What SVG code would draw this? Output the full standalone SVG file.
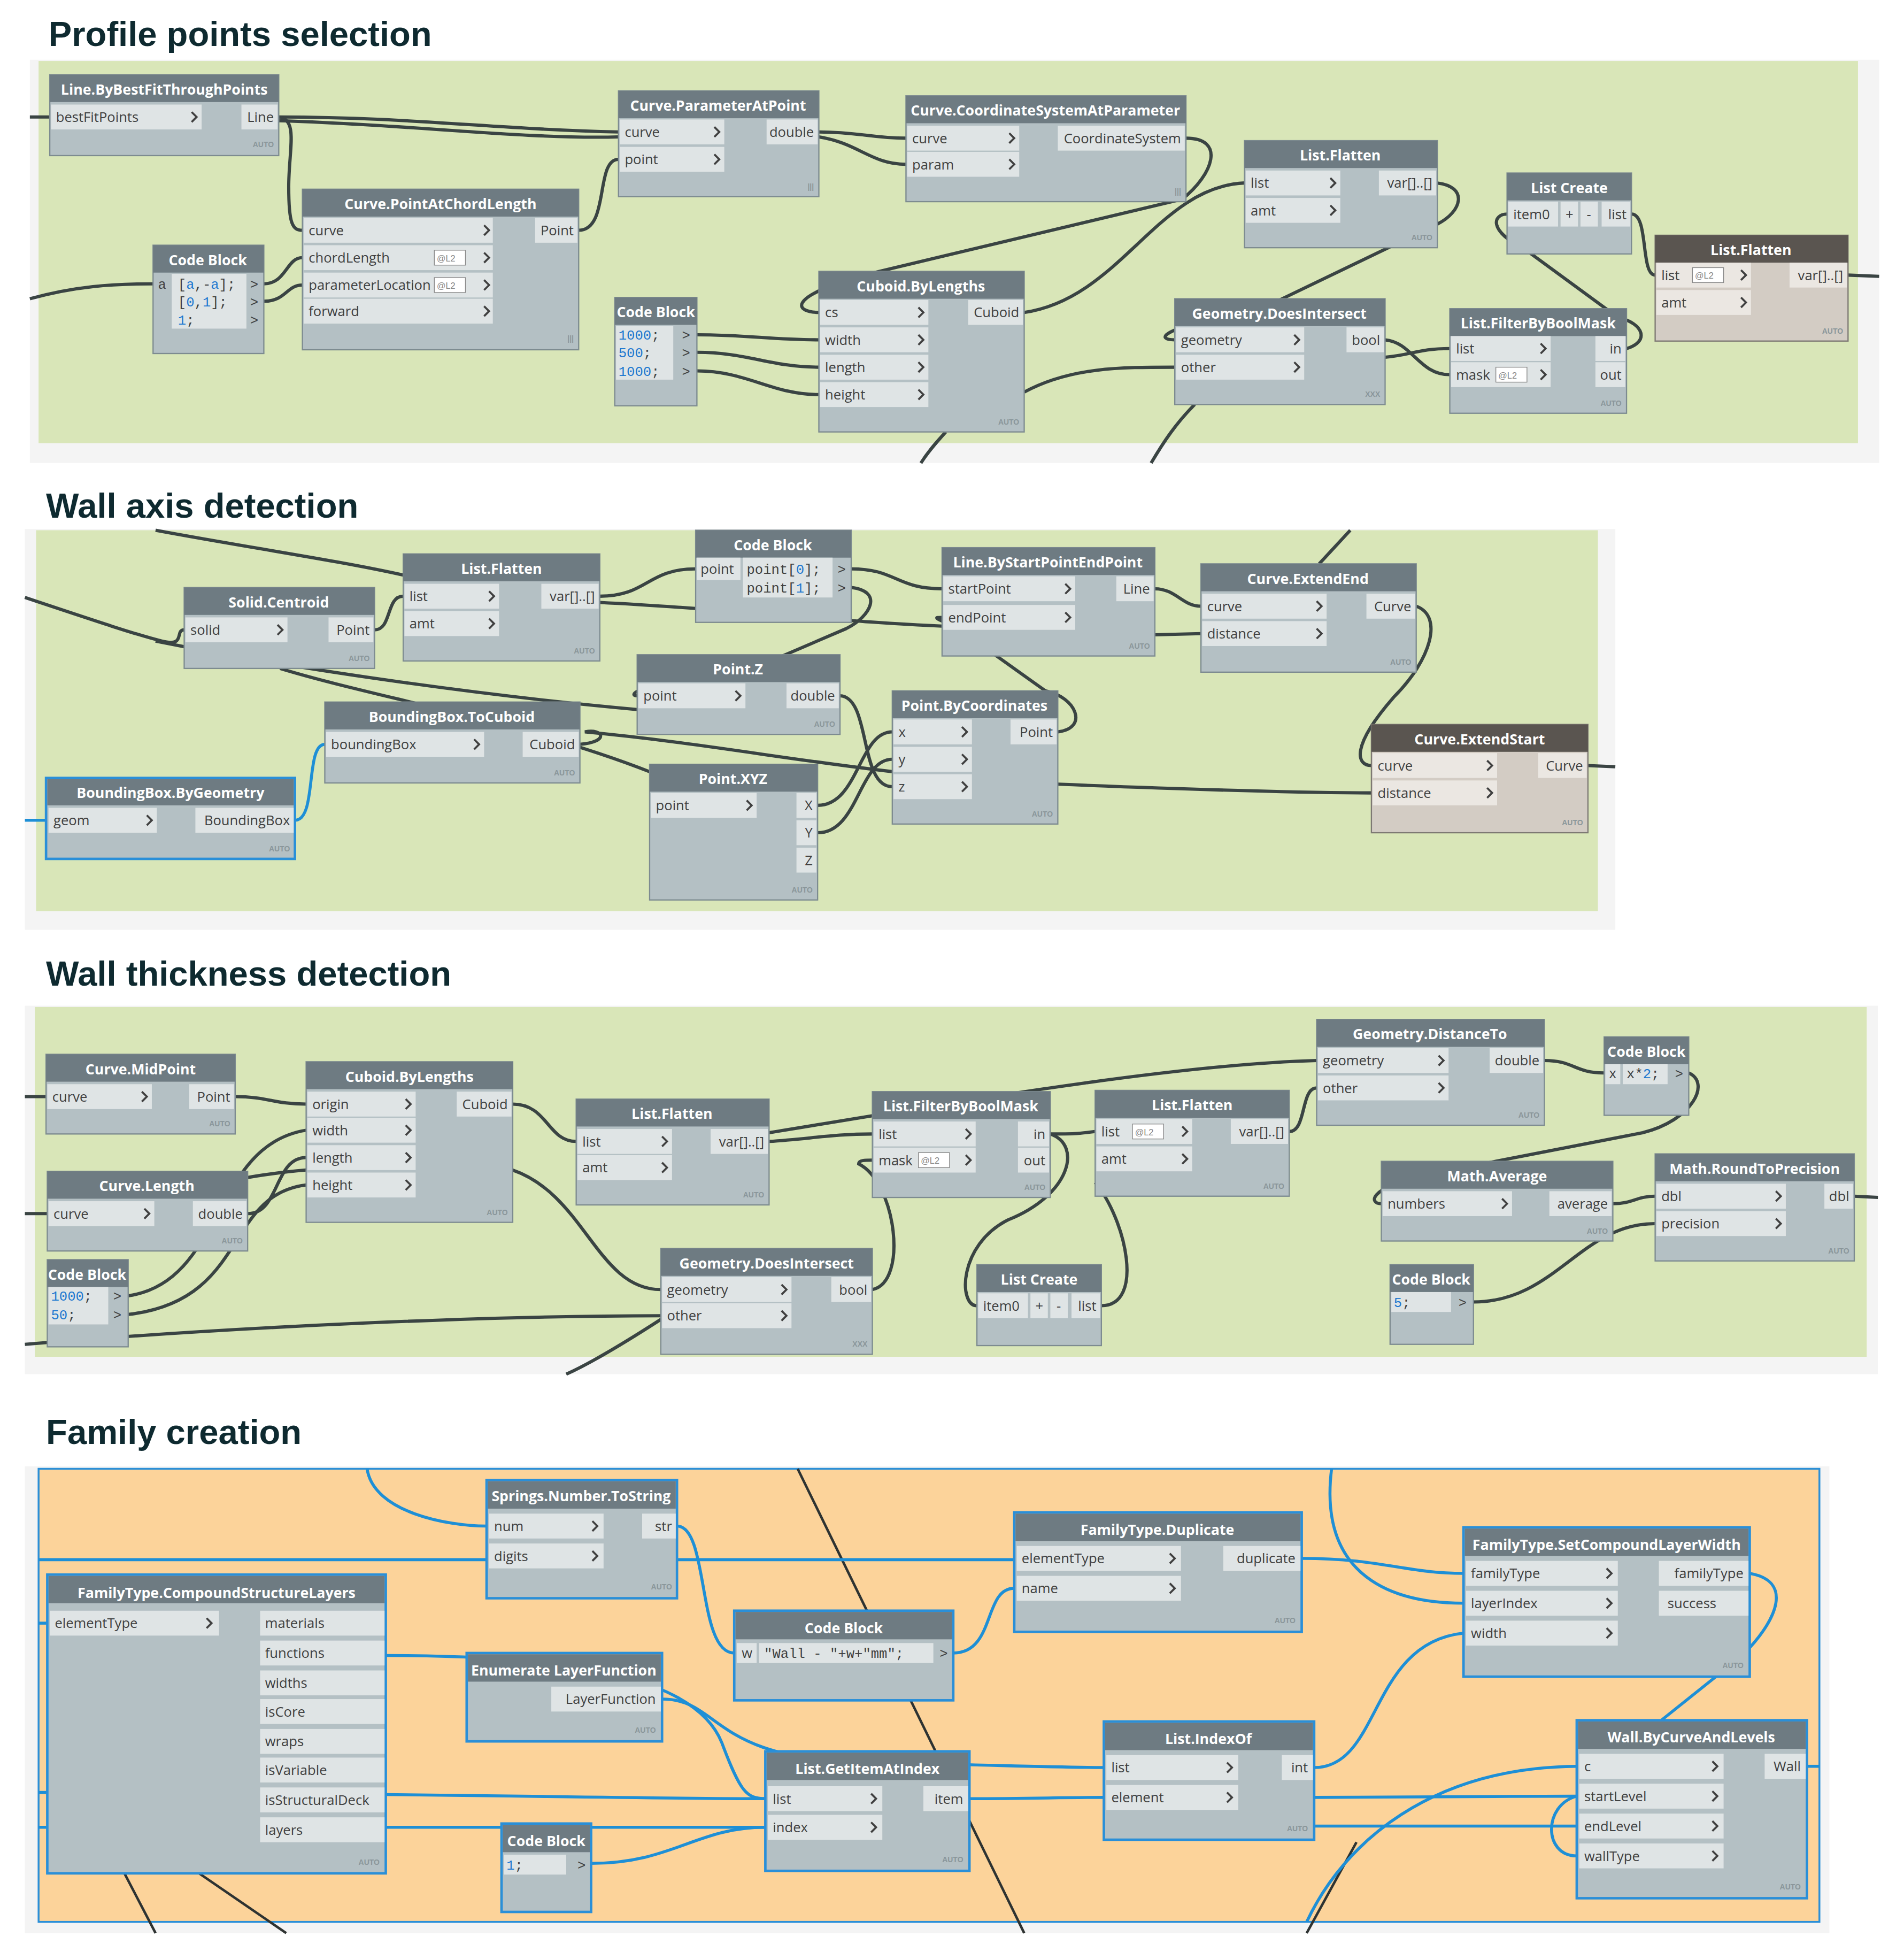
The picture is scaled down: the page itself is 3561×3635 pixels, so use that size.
<svg xmlns="http://www.w3.org/2000/svg" xmlns:xlink="http://www.w3.org/1999/xlink" width="3561" height="3635" viewBox="0 0 3561 3635">
<style>
.bd{fill:#b4c0c4;stroke:#7d8b90;stroke-width:1}
.bdd{fill:#d3ccc4;stroke:#7d7873;stroke-width:1}
.sel{stroke:#2a8fd8;stroke-width:2}
.hd{fill:#6e7b82}
.hdd{fill:#5a5550}
.pt{fill:#dfe4e5}
.ptd{fill:#ebe7e2}
.ttl{fill:#fff;font-family:"Open Sans","Liberation Sans",sans-serif;font-weight:bold;font-size:11.5px;text-anchor:middle}
.lb{fill:#404040;font-family:"Open Sans","Liberation Sans",sans-serif;font-size:11px}
.ar{fill:#404040;font-family:"Open Sans","Liberation Sans",sans-serif;font-size:11px;text-anchor:end}
.au{fill:#8a969a;font-family:"Liberation Sans",sans-serif;font-size:6px;font-weight:bold;text-anchor:end}
.cd{fill:#1e78d0;font-family:"Liberation Mono","DejaVu Sans Mono",monospace;font-size:11px}
.cdk{fill:#404040;font-family:"Liberation Mono","DejaVu Sans Mono",monospace;font-size:11px}
.h1{fill:#0e2a30;font-family:"Liberation Sans",sans-serif;font-weight:bold;font-size:28px}
.w{fill:none;stroke:#3a4443;stroke-width:2.6}
.wb{fill:none;stroke:#1e8fd6;stroke-width:2.4}
.wk{fill:none;stroke:#2e3332;stroke-width:2}
.l2{fill:#fff;stroke:#888;stroke-width:0.6}
.l2t{fill:#888;font-family:"Liberation Sans",sans-serif;font-size:7px}
</style>
<defs>
<path id="ch" d="M-2,-4 L2,0 L-2,4" fill="none" stroke="#404040" stroke-width="1.6"/>
</defs>
<rect width="3561" height="3635" fill="#fff"/>
<g transform="scale(2.3275)">
<!-- panels -->
<rect x="24" y="48" width="1486" height="324" fill="#f4f4f4"/>
<rect x="31" y="49" width="1462" height="307" fill="#d9e6b8"/>
<rect x="20" y="425" width="1278" height="322" fill="#f4f4f4"/>
<rect x="29" y="426" width="1255" height="306" fill="#d9e6b8"/>
<rect x="20" y="808" width="1489" height="296" fill="#f4f4f4"/>
<rect x="28" y="809" width="1472" height="281" fill="#d9e6b8"/>
<rect x="20" y="1178" width="1450" height="375" fill="#f4f4f4"/>
<rect x="31" y="1180" width="1431" height="364" fill="#fcd39a" stroke="#2a8fd8" stroke-width="1.5"/>
<text class="h1" x="39" y="37">Profile points selection</text>
<text class="h1" x="37" y="416">Wall axis detection</text>
<text class="h1" x="37" y="792">Wall thickness detection</text>
<text class="h1" x="37" y="1160">Family creation</text>

<g id="connectors">
<!-- section 1 -->
<path class="w" d="M24,94 L40,94"/>
<path class="w" d="M224,94 C330,94 400,104 497,106"/>
<path class="w" d="M224,97 C330,100 420,112 497,110"/>
<path class="w" d="M224,94 C240,96 232,120 232,150 C232,180 235,185 243,185"/>
<path class="w" d="M24,240 C60,230 90,228 123,228"/>
<path class="w" d="M212,228 C230,228 230,207 243,207"/>
<path class="w" d="M212,242 C230,242 230,229 243,229"/>
<path class="w" d="M465,185 C490,185 478,128 497,128"/>
<path class="w" d="M658,106 C690,106 700,111 728,111"/>
<path class="w" d="M658,110 C690,115 700,132 728,132"/>
<path class="w" d="M953,111 C985,111 975,140 950,160 L690,222 C630,240 640,251 658,251"/>
<path class="w" d="M560,269 C600,269 620,273 658,273"/>
<path class="w" d="M560,283 C600,283 620,295 658,295"/>
<path class="w" d="M560,298 C600,298 620,317 658,317"/>
<path class="w" d="M823,251 C900,240 930,150 1000,147"/>
<path class="w" d="M1155,147 C1180,150 1175,170 1155,180 L1020,245 C925,265 930,273 944,273"/>
<path class="w" d="M823,315 C860,295 900,295 944,295"/>
<path class="w" d="M960,325 C945,340 935,355 925,372"/>
<path class="w" d="M760,347 C750,358 745,364 740,372"/>
<path class="w" d="M1113,273 C1135,275 1140,301 1165,301"/>
<path class="w" d="M1113,287 C1135,285 1140,280 1165,280"/>
<path class="w" d="M1307,280 C1325,275 1322,260 1300,255 L1225,200 C1195,185 1200,172 1211,172"/>
<path class="w" d="M1311,172 C1325,172 1318,221 1330,221"/>
<path class="w" d="M1485,221 L1510,222"/>
<!-- section 2 -->
<path class="w" d="M125,426 C200,440 270,450 324,462"/>
<path class="w" d="M20,480 C80,500 110,510 130,515 C150,520 140,506 148,506"/>
<path class="w" d="M125,515 C250,540 400,560 512,570"/>
<path class="w" d="M225,537 C300,560 420,580 522,620"/>
<path class="w" d="M301,506 C315,506 310,479 324,479"/>
<path class="w" d="M482,479 C520,479 520,457 559,457"/>
<path class="w" d="M482,484 C600,490 680,500 757,503"/>
<path class="w" d="M684,457 C720,457 720,473 757,473"/>
<path class="w" d="M684,472 C710,475 700,495 680,505 L610,535 C505,550 505,559 512,559"/>
<path class="w" d="M928,473 C945,473 950,487 965,487"/>
<path class="w" d="M928,510 L965,509"/>
<path class="w" d="M1060,453 L1085,426"/>
<path class="w" d="M1138,487 C1160,495 1150,530 1120,560 C1085,600 1090,615 1102,615"/>
<path class="w" d="M675,559 C700,560 690,632 717,632"/>
<path class="w" d="M657,647 C690,647 690,588 717,588"/>
<path class="w" d="M657,669 C690,669 690,610 717,610"/>
<path class="w" d="M850,588 C875,585 865,560 840,555 L770,505 C750,496 750,496 757,496"/>
<path class="w" d="M466,598 C490,596 485,585 470,588 C600,600 700,625 850,630 C950,634 1050,637 1102,637"/>
<path class="wb" d="M20,659 L37,659"/>
<path class="wb" d="M237,659 C255,659 245,598 261,598"/>
<path class="w" d="M1276,615 L1298,616"/>
<!-- section 3 -->
<path class="w" d="M20,881 L37,881"/>
<path class="w" d="M20,975 L38,975"/>
<path class="w" d="M189,881 C215,881 220,887 246,887"/>
<path class="w" d="M103,1041 C180,1030 170,920 246,908"/>
<path class="w" d="M103,1056 C200,1045 180,960 246,952"/>
<path class="w" d="M199,975 C225,975 220,930 246,930"/>
<path class="w" d="M103,970 C180,950 190,945 246,940"/>
<path class="w" d="M412,887 C440,887 440,917 463,917"/>
<path class="w" d="M618,917 C650,915 670,911 701,911"/>
<path class="w" d="M412,940 C470,960 480,1036 531,1036"/>
<path class="w" d="M20,1080 C200,1065 400,1057 531,1057"/>
<path class="w" d="M531,1060 C500,1080 475,1095 455,1104"/>
<path class="w" d="M701,1036 C730,1030 720,950 690,935 C690,932 695,932 701,932"/>
<path class="w" d="M844,911 C862,911 865,911 880,909"/>
<path class="w" d="M844,911 C870,920 860,960 810,980 C770,1000 770,1049 785,1049"/>
<path class="w" d="M885,1049 C920,1049 905,980 880,950"/>
<path class="w" d="M1036,909 C1050,909 1045,874 1058,874"/>
<path class="w" d="M618,910 C800,880 950,855 1058,852"/>
<path class="w" d="M1241,852 C1265,852 1265,862 1289,862"/>
<path class="w" d="M1357,862 C1375,870 1360,900 1320,910 L1140,945 C1100,955 1100,967 1110,967"/>
<path class="w" d="M1296,967 C1312,967 1315,961 1330,961"/>
<path class="w" d="M1184,1046 C1250,1046 1270,983 1330,983"/>
<path class="w" d="M1490,961 L1509,962"/>
<!-- section 4 -->
<path class="wk" d="M641,1180 L823,1553"/>
<path class="wk" d="M100,1505 L125,1553"/>
<path class="wk" d="M160,1505 L230,1553"/>
<path class="wk" d="M1050,1553 L1090,1480"/>
<path class="wb" d="M295,1180 C300,1215 360,1226 391,1226"/>
<path class="wb" d="M31,1253 L815,1253"/>
<path class="wb" d="M544,1226 C570,1226 560,1328 590,1328"/>
<path class="wb" d="M766,1328 C800,1328 790,1276 815,1276"/>
<path class="wb" d="M1046,1252 C1110,1252 1130,1264 1176,1264"/>
<path class="wb" d="M1070,1180 C1060,1260 1110,1288 1176,1288"/>
<path class="wb" d="M31,1304 L38,1304"/>
<path class="wb" d="M310,1330 C470,1330 560,1350 580,1400 C595,1440 600,1445 615,1445"/>
<path class="wb" d="M532,1365 C580,1365 570,1415 700,1416 C800,1418 850,1420 887,1420"/>
<path class="wb" d="M31,1440 C300,1440 500,1445 615,1445"/>
<path class="wb" d="M31,1468 L615,1468"/>
<path class="wb" d="M475,1497 C540,1497 560,1468 615,1468"/>
<path class="wb" d="M779,1445 C830,1445 850,1444 887,1444"/>
<path class="wb" d="M1056,1444 C1150,1444 1200,1443 1267,1443"/>
<path class="wb" d="M1056,1467 C1150,1467 1200,1467 1267,1467"/>
<path class="wb" d="M1267,1443 C1240,1450 1240,1491 1267,1491"/>
<path class="wb" d="M1056,1420 C1110,1420 1100,1320 1176,1312"/>
<path class="wb" d="M1406,1264 C1440,1270 1430,1300 1400,1330 L1335,1382"/>
<path class="wb" d="M1050,1544 C1080,1480 1150,1420 1267,1419"/>
<path class="wb" d="M1452,1419 L1462,1419"/>
</g>

<!-- ===== Section 1 nodes ===== -->
<g id="n_linebestfit">
<rect class="bd" x="40" y="60" width="184" height="65"/><rect class="hd" x="40" y="60" width="184" height="22"/>
<text class="ttl" x="132" y="76">Line.ByBestFitThroughPoints</text>
<rect class="pt" x="41" y="84" width="121" height="20"/><text class="lb" x="45" y="98">bestFitPoints</text><use href="#ch" x="156" y="94"/>
<rect class="pt" x="194" y="84" width="29" height="20"/><text class="ar" x="220" y="98">Line</text>
<text class="au" x="220" y="118">AUTO</text>
</g>
<g id="n_cb1">
<rect class="bd" x="123" y="197" width="89" height="87"/><rect class="hd" x="123" y="197" width="89" height="22"/>
<text class="ttl" x="167" y="213">Code Block</text>
<rect class="pt" x="138" y="220" width="60" height="44"/>
<text class="cdk" x="127" y="232">a</text>
<text class="cdk" x="143" y="232">[<tspan fill="#1e78d0">a</tspan>,-<tspan fill="#1e78d0">a</tspan>];</text>
<text class="cdk" x="143" y="246">[<tspan fill="#1e78d0">0</tspan>,<tspan fill="#1e78d0">1</tspan>];</text>
<text class="cd" x="143" y="261">1<tspan fill="#404040">;</tspan></text>
<text class="cdk" x="201" y="232">&gt;</text><text class="cdk" x="201" y="246">&gt;</text><text class="cdk" x="201" y="261">&gt;</text>
</g>
<g id="n_pacl">
<rect class="bd" x="243" y="152" width="222" height="129"/><rect class="hd" x="243" y="152" width="222" height="22"/>
<text class="ttl" x="354" y="168">Curve.PointAtChordLength</text>
<rect class="pt" x="244" y="175" width="152" height="20"/><text class="lb" x="248" y="189">curve</text><use href="#ch" x="391" y="185"/>
<rect class="pt" x="244" y="197" width="152" height="20"/><text class="lb" x="248" y="211">chordLength</text><rect class="l2" x="349" y="201" width="25" height="12"/><text class="l2t" x="351" y="210">@L2</text><use href="#ch" x="391" y="207"/>
<rect class="pt" x="244" y="219" width="152" height="20"/><text class="lb" x="248" y="233">parameterLocation</text><rect class="l2" x="349" y="223" width="25" height="12"/><text class="l2t" x="351" y="232">@L2</text><use href="#ch" x="391" y="229"/>
<rect class="pt" x="244" y="240" width="152" height="20"/><text class="lb" x="248" y="254">forward</text><use href="#ch" x="391" y="250"/>
<rect class="pt" x="430" y="175" width="34" height="20"/><text class="ar" x="461" y="189">Point</text>
<text class="au" x="461" y="274">|||</text>
</g>
<g id="n_pap">
<rect class="bd" x="497" y="73" width="161" height="85"/><rect class="hd" x="497" y="73" width="161" height="22"/>
<text class="ttl" x="577" y="89">Curve.ParameterAtPoint</text>
<rect class="pt" x="498" y="96" width="84" height="20"/><text class="lb" x="502" y="110">curve</text><use href="#ch" x="576" y="106"/>
<rect class="pt" x="498" y="118" width="84" height="20"/><text class="lb" x="502" y="132">point</text><use href="#ch" x="576" y="128"/>
<rect class="pt" x="616" y="96" width="41" height="20"/><text class="ar" x="654" y="110">double</text>
<text class="au" x="654" y="152">|||</text>
</g>
<g id="n_csap">
<rect class="bd" x="728" y="77" width="225" height="85"/><rect class="hd" x="728" y="77" width="225" height="22"/>
<text class="ttl" x="840" y="93">Curve.CoordinateSystemAtParameter</text>
<rect class="pt" x="729" y="101" width="90" height="20"/><text class="lb" x="733" y="115">curve</text><use href="#ch" x="813" y="111"/>
<rect class="pt" x="729" y="122" width="90" height="20"/><text class="lb" x="733" y="136">param</text><use href="#ch" x="813" y="132"/>
<rect class="pt" x="850" y="101" width="102" height="20"/><text class="ar" x="949" y="115">CoordinateSystem</text>
<text class="au" x="949" y="156">|||</text>
</g>
<g id="n_flat1">
<rect class="bd" x="1000" y="113" width="155" height="86"/><rect class="hd" x="1000" y="113" width="155" height="22"/>
<text class="ttl" x="1077" y="129">List.Flatten</text>
<rect class="pt" x="1001" y="137" width="76" height="20"/><text class="lb" x="1005" y="151">list</text><use href="#ch" x="1071" y="147"/>
<rect class="pt" x="1001" y="159" width="76" height="20"/><text class="lb" x="1005" y="173">amt</text><use href="#ch" x="1071" y="169"/>
<rect class="pt" x="1108" y="137" width="46" height="20"/><text class="ar" x="1151" y="151">var[]..[]</text>
<text class="au" x="1151" y="193">AUTO</text>
</g>
<g id="n_lc1">
<rect class="bd" x="1211" y="139" width="100" height="65"/><rect class="hd" x="1211" y="139" width="100" height="22"/>
<text class="ttl" x="1261" y="155">List Create</text>
<rect class="pt" x="1212" y="162" width="40" height="20"/><text class="lb" x="1216" y="176">item0</text>
<rect class="pt" x="1254" y="162" width="14" height="20"/><text class="lb" x="1258" y="176">+</text>
<rect class="pt" x="1270" y="162" width="14" height="20"/><text class="lb" x="1275" y="176">-</text>
<rect class="pt" x="1287" y="162" width="23" height="20"/><text class="ar" x="1307" y="176">list</text>
</g>
<g id="n_flat2">
<rect class="bdd" x="1330" y="189" width="155" height="85"/><rect class="hdd" x="1330" y="189" width="155" height="22"/>
<text class="ttl" x="1407" y="205">List.Flatten</text>
<rect class="ptd" x="1331" y="211" width="76" height="20"/><text class="lb" x="1335" y="225">list</text><rect class="l2" x="1360" y="215" width="25" height="12"/><text class="l2t" x="1362" y="224">@L2</text><use href="#ch" x="1401" y="221"/>
<rect class="ptd" x="1331" y="233" width="76" height="20"/><text class="lb" x="1335" y="247">amt</text><use href="#ch" x="1401" y="243"/>
<rect class="ptd" x="1438" y="211" width="46" height="20"/><text class="ar" x="1481" y="225">var[]..[]</text>
<text class="au" x="1481" y="268">AUTO</text>
</g>
<g id="n_cb2">
<rect class="bd" x="494" y="239" width="66" height="87"/><rect class="hd" x="494" y="239" width="66" height="22"/>
<text class="ttl" x="527" y="255">Code Block</text>
<rect class="pt" x="495" y="262" width="46" height="43"/>
<text class="cd" x="497" y="273">1000<tspan fill="#404040">;</tspan></text>
<text class="cd" x="497" y="287">500<tspan fill="#404040">;</tspan></text>
<text class="cd" x="497" y="302">1000<tspan fill="#404040">;</tspan></text>
<text class="cdk" x="548" y="273">&gt;</text><text class="cdk" x="548" y="287">&gt;</text><text class="cdk" x="548" y="302">&gt;</text>
</g>
<g id="n_cuboid1">
<rect class="bd" x="658" y="218" width="165" height="129"/><rect class="hd" x="658" y="218" width="165" height="22"/>
<text class="ttl" x="740" y="234">Cuboid.ByLengths</text>
<rect class="pt" x="659" y="241" width="87" height="20"/><text class="lb" x="663" y="255">cs</text><use href="#ch" x="740" y="251"/>
<rect class="pt" x="659" y="263" width="87" height="20"/><text class="lb" x="663" y="277">width</text><use href="#ch" x="740" y="273"/>
<rect class="pt" x="659" y="285" width="87" height="20"/><text class="lb" x="663" y="299">length</text><use href="#ch" x="740" y="295"/>
<rect class="pt" x="659" y="307" width="87" height="20"/><text class="lb" x="663" y="321">height</text><use href="#ch" x="740" y="317"/>
<rect class="pt" x="778" y="241" width="44" height="20"/><text class="ar" x="819" y="255">Cuboid</text>
<text class="au" x="819" y="341">AUTO</text>
</g>
<g id="n_gdi1">
<rect class="bd" x="944" y="240" width="169" height="85"/><rect class="hd" x="944" y="240" width="169" height="22"/>
<text class="ttl" x="1028" y="256">Geometry.DoesIntersect</text>
<rect class="pt" x="945" y="263" width="103" height="20"/><text class="lb" x="949" y="277">geometry</text><use href="#ch" x="1042" y="273"/>
<rect class="pt" x="945" y="285" width="103" height="20"/><text class="lb" x="949" y="299">other</text><use href="#ch" x="1042" y="295"/>
<rect class="pt" x="1082" y="263" width="30" height="20"/><text class="ar" x="1109" y="277">bool</text>
<text class="au" x="1109" y="319">XXX</text>
</g>
<g id="n_fbbm1">
<rect class="bd" x="1165" y="248" width="142" height="84"/><rect class="hd" x="1165" y="248" width="142" height="22"/>
<text class="ttl" x="1236" y="264">List.FilterByBoolMask</text>
<rect class="pt" x="1166" y="270" width="80" height="20"/><text class="lb" x="1170" y="284">list</text><use href="#ch" x="1240" y="280"/>
<rect class="pt" x="1166" y="291" width="80" height="20"/><text class="lb" x="1170" y="305">mask</text><rect class="l2" x="1202" y="295" width="25" height="12"/><text class="l2t" x="1204" y="304">@L2</text><use href="#ch" x="1240" y="301"/>
<rect class="pt" x="1282" y="270" width="24" height="20"/><text class="ar" x="1303" y="284">in</text>
<rect class="pt" x="1282" y="291" width="24" height="20"/><text class="ar" x="1303" y="305">out</text>
<text class="au" x="1303" y="326">AUTO</text>
</g>

<!-- ===== Section 2 nodes ===== -->
<g id="n_centroid">
<rect class="bd" x="148" y="472" width="153" height="65"/><rect class="hd" x="148" y="472" width="153" height="22"/>
<text class="ttl" x="224" y="488">Solid.Centroid</text>
<rect class="pt" x="149" y="496" width="82" height="20"/><text class="lb" x="153" y="510">solid</text><use href="#ch" x="225" y="506"/>
<rect class="pt" x="264" y="496" width="36" height="20"/><text class="ar" x="297" y="510">Point</text>
<text class="au" x="297" y="531">AUTO</text>
</g>
<g id="n_flat3">
<rect class="bd" x="324" y="445" width="158" height="86"/><rect class="hd" x="324" y="445" width="158" height="22"/>
<text class="ttl" x="403" y="461">List.Flatten</text>
<rect class="pt" x="325" y="469" width="76" height="20"/><text class="lb" x="329" y="483">list</text><use href="#ch" x="395" y="479"/>
<rect class="pt" x="325" y="491" width="76" height="20"/><text class="lb" x="329" y="505">amt</text><use href="#ch" x="395" y="501"/>
<rect class="pt" x="435" y="469" width="46" height="20"/><text class="ar" x="478" y="483">var[]..[]</text>
<text class="au" x="478" y="525">AUTO</text>
</g>
<g id="n_cb3">
<rect class="bd" x="559" y="426" width="125" height="74"/><rect class="hd" x="559" y="426" width="125" height="22"/>
<text class="ttl" x="621" y="442">Code Block</text>
<rect class="pt" x="560" y="448" width="35" height="18"/><text class="lb" x="563" y="461">point</text>
<rect class="pt" x="597" y="448" width="72" height="32"/>
<text class="cdk" x="600" y="461">point[<tspan fill="#1e78d0">0</tspan>];</text>
<text class="cdk" x="600" y="476">point[<tspan fill="#1e78d0">1</tspan>];</text>
<text class="cdk" x="673" y="461">&gt;</text><text class="cdk" x="673" y="476">&gt;</text>
</g>
<g id="n_lbsp">
<rect class="bd" x="757" y="440" width="171" height="87"/><rect class="hd" x="757" y="440" width="171" height="22"/>
<text class="ttl" x="842" y="456">Line.ByStartPointEndPoint</text>
<rect class="pt" x="758" y="463" width="106" height="20"/><text class="lb" x="762" y="477">startPoint</text><use href="#ch" x="858" y="473"/>
<rect class="pt" x="758" y="486" width="106" height="20"/><text class="lb" x="762" y="500">endPoint</text><use href="#ch" x="858" y="496"/>
<rect class="pt" x="897" y="463" width="30" height="20"/><text class="ar" x="924" y="477">Line</text>
<text class="au" x="924" y="521">AUTO</text>
</g>
<g id="n_extend_end">
<rect class="bd" x="965" y="453" width="173" height="87"/><rect class="hd" x="965" y="453" width="173" height="22"/>
<text class="ttl" x="1051" y="469">Curve.ExtendEnd</text>
<rect class="pt" x="966" y="477" width="100" height="20"/><text class="lb" x="970" y="491">curve</text><use href="#ch" x="1060" y="487"/>
<rect class="pt" x="966" y="499" width="100" height="20"/><text class="lb" x="970" y="513">distance</text><use href="#ch" x="1060" y="509"/>
<rect class="pt" x="1098" y="477" width="39" height="20"/><text class="ar" x="1134" y="491">Curve</text>
<text class="au" x="1134" y="534">AUTO</text>
</g>
<g id="n_pointz">
<rect class="bd" x="512" y="526" width="163" height="64"/><rect class="hd" x="512" y="526" width="163" height="22"/>
<text class="ttl" x="593" y="542">Point.Z</text>
<rect class="pt" x="513" y="549" width="86" height="20"/><text class="lb" x="517" y="563">point</text><use href="#ch" x="593" y="559"/>
<rect class="pt" x="632" y="549" width="42" height="20"/><text class="ar" x="671" y="563">double</text>
<text class="au" x="671" y="584">AUTO</text>
</g>
<g id="n_bbtocuboid">
<rect class="bd" x="261" y="564" width="205" height="65"/><rect class="hd" x="261" y="564" width="205" height="22"/>
<text class="ttl" x="363" y="580">BoundingBox.ToCuboid</text>
<rect class="pt" x="262" y="588" width="127" height="20"/><text class="lb" x="266" y="602">boundingBox</text><use href="#ch" x="383" y="598"/>
<rect class="pt" x="420" y="588" width="45" height="20"/><text class="ar" x="462" y="602">Cuboid</text>
<text class="au" x="462" y="623">AUTO</text>
</g>
<g id="n_pbc">
<rect class="bd" x="717" y="555" width="133" height="107"/><rect class="hd" x="717" y="555" width="133" height="22"/>
<text class="ttl" x="783" y="571">Point.ByCoordinates</text>
<rect class="pt" x="718" y="578" width="63" height="20"/><text class="lb" x="722" y="592">x</text><use href="#ch" x="775" y="588"/>
<rect class="pt" x="718" y="600" width="63" height="20"/><text class="lb" x="722" y="614">y</text><use href="#ch" x="775" y="610"/>
<rect class="pt" x="718" y="622" width="63" height="20"/><text class="lb" x="722" y="636">z</text><use href="#ch" x="775" y="632"/>
<rect class="pt" x="812" y="578" width="37" height="20"/><text class="ar" x="846" y="592">Point</text>
<text class="au" x="846" y="656">AUTO</text>
</g>
<g id="n_extend_start">
<rect class="bdd" x="1102" y="582" width="174" height="87"/><rect class="hdd" x="1102" y="582" width="174" height="22"/>
<text class="ttl" x="1189" y="598">Curve.ExtendStart</text>
<rect class="ptd" x="1103" y="605" width="100" height="20"/><text class="lb" x="1107" y="619">curve</text><use href="#ch" x="1197" y="615"/>
<rect class="ptd" x="1103" y="627" width="100" height="20"/><text class="lb" x="1107" y="641">distance</text><use href="#ch" x="1197" y="637"/>
<rect class="ptd" x="1236" y="605" width="39" height="20"/><text class="ar" x="1272" y="619">Curve</text>
<text class="au" x="1272" y="663">AUTO</text>
</g>
<g id="n_bbbygeom">
<rect class="bd sel" x="37" y="625" width="200" height="65"/><rect class="hd" x="38" y="626" width="198" height="21"/>
<text class="ttl" x="137" y="641">BoundingBox.ByGeometry</text>
<rect class="pt" x="39" y="649" width="87" height="20"/><text class="lb" x="43" y="663">geom</text><use href="#ch" x="120" y="659"/>
<rect class="pt" x="157" y="649" width="79" height="20"/><text class="ar" x="233" y="663">BoundingBox</text>
<text class="au" x="233" y="684">AUTO</text>
</g>
<g id="n_pointxyz">
<rect class="bd" x="522" y="614" width="135" height="109"/><rect class="hd" x="522" y="614" width="135" height="22"/>
<text class="ttl" x="589" y="630">Point.XYZ</text>
<rect class="pt" x="523" y="637" width="85" height="20"/><text class="lb" x="527" y="651">point</text><use href="#ch" x="602" y="647"/>
<rect class="pt" x="640" y="637" width="16" height="20"/><text class="ar" x="653" y="651">X</text>
<rect class="pt" x="640" y="659" width="16" height="20"/><text class="ar" x="653" y="673">Y</text>
<rect class="pt" x="640" y="681" width="16" height="20"/><text class="ar" x="653" y="695">Z</text>
<text class="au" x="653" y="717">AUTO</text>
</g>

<!-- ===== Section 3 nodes ===== -->
<g id="n_midpoint">
<rect class="bd" x="37" y="847" width="152" height="64"/><rect class="hd" x="37" y="847" width="152" height="22"/>
<text class="ttl" x="113" y="863">Curve.MidPoint</text>
<rect class="pt" x="38" y="871" width="84" height="20"/><text class="lb" x="42" y="885">curve</text><use href="#ch" x="116" y="881"/>
<rect class="pt" x="152" y="871" width="36" height="20"/><text class="ar" x="185" y="885">Point</text>
<text class="au" x="185" y="905">AUTO</text>
</g>
<g id="n_cuboid2">
<rect class="bd" x="246" y="853" width="166" height="129"/><rect class="hd" x="246" y="853" width="166" height="22"/>
<text class="ttl" x="329" y="869">Cuboid.ByLengths</text>
<rect class="pt" x="247" y="877" width="87" height="20"/><text class="lb" x="251" y="891">origin</text><use href="#ch" x="328" y="887"/>
<rect class="pt" x="247" y="898" width="87" height="20"/><text class="lb" x="251" y="912">width</text><use href="#ch" x="328" y="908"/>
<rect class="pt" x="247" y="920" width="87" height="20"/><text class="lb" x="251" y="934">length</text><use href="#ch" x="328" y="930"/>
<rect class="pt" x="247" y="942" width="87" height="20"/><text class="lb" x="251" y="956">height</text><use href="#ch" x="328" y="952"/>
<rect class="pt" x="367" y="877" width="44" height="20"/><text class="ar" x="408" y="891">Cuboid</text>
<text class="au" x="408" y="976">AUTO</text>
</g>
<g id="n_flat4">
<rect class="bd" x="463" y="883" width="155" height="85"/><rect class="hd" x="463" y="883" width="155" height="22"/>
<text class="ttl" x="540" y="899">List.Flatten</text>
<rect class="pt" x="464" y="907" width="76" height="20"/><text class="lb" x="468" y="921">list</text><use href="#ch" x="534" y="917"/>
<rect class="pt" x="464" y="928" width="76" height="20"/><text class="lb" x="468" y="942">amt</text><use href="#ch" x="534" y="938"/>
<rect class="pt" x="571" y="907" width="46" height="20"/><text class="ar" x="614" y="921">var[]..[]</text>
<text class="au" x="614" y="962">AUTO</text>
</g>
<g id="n_fbbm2">
<rect class="bd" x="701" y="877" width="143" height="85"/><rect class="hd" x="701" y="877" width="143" height="22"/>
<text class="ttl" x="772" y="893">List.FilterByBoolMask</text>
<rect class="pt" x="702" y="901" width="82" height="20"/><text class="lb" x="706" y="915">list</text><use href="#ch" x="778" y="911"/>
<rect class="pt" x="702" y="922" width="82" height="20"/><text class="lb" x="706" y="936">mask</text><rect class="l2" x="738" y="926" width="25" height="12"/><text class="l2t" x="740" y="935">@L2</text><use href="#ch" x="778" y="932"/>
<rect class="pt" x="818" y="901" width="25" height="20"/><text class="ar" x="840" y="915">in</text>
<rect class="pt" x="818" y="922" width="25" height="20"/><text class="ar" x="840" y="936">out</text>
<text class="au" x="840" y="956">AUTO</text>
</g>
<g id="n_flat5">
<rect class="bd" x="880" y="876" width="156" height="85"/><rect class="hd" x="880" y="876" width="156" height="22"/>
<text class="ttl" x="958" y="892">List.Flatten</text>
<rect class="pt" x="881" y="899" width="77" height="20"/><text class="lb" x="885" y="913">list</text><rect class="l2" x="910" y="903" width="25" height="12"/><text class="l2t" x="912" y="912">@L2</text><use href="#ch" x="952" y="909"/>
<rect class="pt" x="881" y="921" width="77" height="20"/><text class="lb" x="885" y="935">amt</text><use href="#ch" x="952" y="931"/>
<rect class="pt" x="989" y="899" width="46" height="20"/><text class="ar" x="1032" y="913">var[]..[]</text>
<text class="au" x="1032" y="955">AUTO</text>
</g>
<g id="n_distto">
<rect class="bd" x="1058" y="819" width="183" height="85"/><rect class="hd" x="1058" y="819" width="183" height="22"/>
<text class="ttl" x="1149" y="835">Geometry.DistanceTo</text>
<rect class="pt" x="1059" y="842" width="105" height="20"/><text class="lb" x="1063" y="856">geometry</text><use href="#ch" x="1158" y="852"/>
<rect class="pt" x="1059" y="864" width="105" height="20"/><text class="lb" x="1063" y="878">other</text><use href="#ch" x="1158" y="874"/>
<rect class="pt" x="1197" y="842" width="43" height="20"/><text class="ar" x="1237" y="856">double</text>
<text class="au" x="1237" y="898">AUTO</text>
</g>
<g id="n_cb4">
<rect class="bd" x="1289" y="833" width="68" height="63"/><rect class="hd" x="1289" y="833" width="68" height="22"/>
<text class="ttl" x="1323" y="849">Code Block</text>
<rect class="pt" x="1290" y="855" width="12" height="16"/><text class="lb" x="1293" y="866">x</text>
<rect class="pt" x="1304" y="855" width="36" height="16"/><text class="cdk" x="1307" y="866">x*<tspan fill="#1e78d0">2</tspan>;</text>
<text class="cdk" x="1346" y="866">&gt;</text>
</g>
<g id="n_curvelength">
<rect class="bd" x="38" y="941" width="161" height="64"/><rect class="hd" x="38" y="941" width="161" height="22"/>
<text class="ttl" x="118" y="957">Curve.Length</text>
<rect class="pt" x="39" y="965" width="85" height="20"/><text class="lb" x="43" y="979">curve</text><use href="#ch" x="118" y="975"/>
<rect class="pt" x="155" y="965" width="43" height="20"/><text class="ar" x="195" y="979">double</text>
<text class="au" x="195" y="999">AUTO</text>
</g>
<g id="n_average">
<rect class="bd" x="1110" y="933" width="186" height="64"/><rect class="hd" x="1110" y="933" width="186" height="22"/>
<text class="ttl" x="1203" y="949">Math.Average</text>
<rect class="pt" x="1111" y="957" width="104" height="20"/><text class="lb" x="1115" y="971">numbers</text><use href="#ch" x="1209" y="967"/>
<rect class="pt" x="1245" y="957" width="50" height="20"/><text class="ar" x="1292" y="971">average</text>
<text class="au" x="1292" y="991">AUTO</text>
</g>
<g id="n_round">
<rect class="bd" x="1330" y="927" width="160" height="86"/><rect class="hd" x="1330" y="927" width="160" height="22"/>
<text class="ttl" x="1410" y="943">Math.RoundToPrecision</text>
<rect class="pt" x="1331" y="951" width="104" height="20"/><text class="lb" x="1335" y="965">dbl</text><use href="#ch" x="1429" y="961"/>
<rect class="pt" x="1331" y="973" width="104" height="20"/><text class="lb" x="1335" y="987">precision</text><use href="#ch" x="1429" y="983"/>
<rect class="pt" x="1466" y="951" width="23" height="20"/><text class="ar" x="1486" y="965">dbl</text>
<text class="au" x="1486" y="1007">AUTO</text>
</g>
<g id="n_cb5">
<rect class="bd" x="38" y="1012" width="65" height="70"/><rect class="hd" x="38" y="1012" width="65" height="22"/>
<text class="ttl" x="70" y="1028">Code Block</text>
<rect class="pt" x="39" y="1034" width="48" height="30"/>
<text class="cd" x="41" y="1045">1000<tspan fill="#404040">;</tspan></text>
<text class="cd" x="41" y="1060">50<tspan fill="#404040">;</tspan></text>
<text class="cdk" x="91" y="1045">&gt;</text><text class="cdk" x="91" y="1060">&gt;</text>
</g>
<g id="n_gdi2">
<rect class="bd" x="531" y="1003" width="170" height="85"/><rect class="hd" x="531" y="1003" width="170" height="22"/>
<text class="ttl" x="616" y="1019">Geometry.DoesIntersect</text>
<rect class="pt" x="532" y="1026" width="104" height="20"/><text class="lb" x="536" y="1040">geometry</text><use href="#ch" x="630" y="1036"/>
<rect class="pt" x="532" y="1047" width="104" height="20"/><text class="lb" x="536" y="1061">other</text><use href="#ch" x="630" y="1057"/>
<rect class="pt" x="668" y="1026" width="32" height="20"/><text class="ar" x="697" y="1040">bool</text>
<text class="au" x="697" y="1082">XXX</text>
</g>
<g id="n_lc2">
<rect class="bd" x="785" y="1016" width="100" height="65"/><rect class="hd" x="785" y="1016" width="100" height="22"/>
<text class="ttl" x="835" y="1032">List Create</text>
<rect class="pt" x="786" y="1039" width="40" height="20"/><text class="lb" x="790" y="1053">item0</text>
<rect class="pt" x="828" y="1039" width="14" height="20"/><text class="lb" x="832" y="1053">+</text>
<rect class="pt" x="844" y="1039" width="14" height="20"/><text class="lb" x="849" y="1053">-</text>
<rect class="pt" x="861" y="1039" width="23" height="20"/><text class="ar" x="881" y="1053">list</text>
</g>
<g id="n_cb6">
<rect class="bd" x="1117" y="1016" width="67" height="64"/><rect class="hd" x="1117" y="1016" width="67" height="22"/>
<text class="ttl" x="1150" y="1032">Code Block</text>
<rect class="pt" x="1118" y="1038" width="48" height="16"/>
<text class="cd" x="1120" y="1050">5<tspan fill="#404040">;</tspan></text>
<text class="cdk" x="1172" y="1050">&gt;</text>
</g>

<!-- ===== Section 4 nodes ===== -->
<g id="n_springs">
<rect class="bd sel" x="391" y="1189" width="153" height="95"/><rect class="hd" x="392" y="1190" width="151" height="22"/>
<text class="ttl" x="467" y="1206">Springs.Number.ToString</text>
<rect class="pt" x="393" y="1216" width="92" height="20"/><text class="lb" x="397" y="1230">num</text><use href="#ch" x="478" y="1226"/>
<rect class="pt" x="393" y="1240" width="92" height="20"/><text class="lb" x="397" y="1254">digits</text><use href="#ch" x="478" y="1250"/>
<rect class="pt" x="516" y="1216" width="27" height="20"/><text class="ar" x="540" y="1230">str</text>
<text class="au" x="540" y="1277">AUTO</text>
</g>
<g id="n_ftdup">
<rect class="bd sel" x="815" y="1215" width="231" height="96"/><rect class="hd" x="816" y="1216" width="229" height="22"/>
<text class="ttl" x="930" y="1233">FamilyType.Duplicate</text>
<rect class="pt" x="817" y="1242" width="132" height="20"/><text class="lb" x="821" y="1256">elementType</text><use href="#ch" x="942" y="1252"/>
<rect class="pt" x="817" y="1266" width="132" height="20"/><text class="lb" x="821" y="1280">name</text><use href="#ch" x="942" y="1276"/>
<rect class="pt" x="983" y="1242" width="62" height="20"/><text class="ar" x="1041" y="1256">duplicate</text>
<text class="au" x="1041" y="1304">AUTO</text>
</g>
<g id="n_setwidth">
<rect class="bd sel" x="1176" y="1227" width="230" height="120"/><rect class="hd" x="1177" y="1228" width="228" height="22"/>
<text class="ttl" x="1291" y="1245">FamilyType.SetCompoundLayerWidth</text>
<rect class="pt" x="1178" y="1254" width="122" height="20"/><text class="lb" x="1182" y="1268">familyType</text><use href="#ch" x="1293" y="1264"/>
<rect class="pt" x="1178" y="1278" width="122" height="20"/><text class="lb" x="1182" y="1292">layerIndex</text><use href="#ch" x="1293" y="1288"/>
<rect class="pt" x="1178" y="1302" width="122" height="20"/><text class="lb" x="1182" y="1316">width</text><use href="#ch" x="1293" y="1312"/>
<rect class="pt" x="1333" y="1254" width="72" height="20"/><text class="ar" x="1401" y="1268">familyType</text>
<rect class="pt" x="1333" y="1278" width="72" height="20"/><text class="lb" x="1340" y="1292">success</text>
<text class="au" x="1401" y="1340">AUTO</text>
</g>
<g id="n_csl">
<rect class="bd sel" x="38" y="1265" width="272" height="240"/><rect class="hd" x="39" y="1266" width="270" height="22"/>
<text class="ttl" x="174" y="1284">FamilyType.CompoundStructureLayers</text>
<rect class="pt" x="40" y="1294" width="136" height="20"/><text class="lb" x="44" y="1308">elementType</text><use href="#ch" x="168" y="1304"/>
<rect class="pt" x="209" y="1294" width="100" height="20"/><text class="lb" x="213" y="1308">materials</text>
<rect class="pt" x="209" y="1318" width="100" height="20"/><text class="lb" x="213" y="1332">functions</text>
<rect class="pt" x="209" y="1342" width="100" height="20"/><text class="lb" x="213" y="1356">widths</text>
<rect class="pt" x="209" y="1365" width="100" height="20"/><text class="lb" x="213" y="1379">isCore</text>
<rect class="pt" x="209" y="1389" width="100" height="20"/><text class="lb" x="213" y="1403">wraps</text>
<rect class="pt" x="209" y="1412" width="100" height="20"/><text class="lb" x="213" y="1426">isVariable</text>
<rect class="pt" x="209" y="1436" width="100" height="20"/><text class="lb" x="213" y="1450">isStructuralDeck</text>
<rect class="pt" x="209" y="1460" width="100" height="20"/><text class="lb" x="213" y="1474">layers</text>
<text class="au" x="305" y="1498">AUTO</text>
</g>
<g id="n_cb7">
<rect class="bd sel" x="590" y="1294" width="176" height="72"/><rect class="hd" x="591" y="1295" width="174" height="22"/>
<text class="ttl" x="678" y="1312">Code Block</text>
<rect class="pt" x="592" y="1320" width="16" height="16"/><text class="lb" x="596" y="1332">w</text>
<rect class="pt" x="610" y="1320" width="140" height="16"/><text class="cdk" x="614" y="1332" font-size="10.5">"Wall - "+w+"mm";</text>
<text class="cdk" x="755" y="1332">&gt;</text>
</g>
<g id="n_enum">
<rect class="bd sel" x="375" y="1328" width="157" height="71"/><rect class="hd" x="376" y="1329" width="155" height="22"/>
<text class="ttl" x="453" y="1346">Enumerate LayerFunction</text>
<rect class="pt" x="443" y="1355" width="88" height="20"/><text class="ar" x="527" y="1369">LayerFunction</text>
<text class="au" x="527" y="1392">AUTO</text>
</g>
<g id="n_indexof">
<rect class="bd sel" x="887" y="1383" width="169" height="95"/><rect class="hd" x="888" y="1384" width="167" height="22"/>
<text class="ttl" x="971" y="1401">List.IndexOf</text>
<rect class="pt" x="889" y="1410" width="106" height="20"/><text class="lb" x="893" y="1424">list</text><use href="#ch" x="988" y="1420"/>
<rect class="pt" x="889" y="1434" width="106" height="20"/><text class="lb" x="893" y="1448">element</text><use href="#ch" x="988" y="1444"/>
<rect class="pt" x="1030" y="1410" width="25" height="20"/><text class="ar" x="1051" y="1424">int</text>
<text class="au" x="1051" y="1471">AUTO</text>
</g>
<g id="n_getitem">
<rect class="bd sel" x="615" y="1407" width="164" height="96"/><rect class="hd" x="616" y="1408" width="162" height="22"/>
<text class="ttl" x="697" y="1425">List.GetItemAtIndex</text>
<rect class="pt" x="617" y="1435" width="92" height="20"/><text class="lb" x="621" y="1449">list</text><use href="#ch" x="702" y="1445"/>
<rect class="pt" x="617" y="1458" width="92" height="20"/><text class="lb" x="621" y="1472">index</text><use href="#ch" x="702" y="1468"/>
<rect class="pt" x="742" y="1435" width="36" height="20"/><text class="ar" x="774" y="1449">item</text>
<text class="au" x="774" y="1496">AUTO</text>
</g>
<g id="n_wall">
<rect class="bd sel" x="1267" y="1382" width="185" height="143"/><rect class="hd" x="1268" y="1383" width="183" height="22"/>
<text class="ttl" x="1359" y="1400">Wall.ByCurveAndLevels</text>
<rect class="pt" x="1269" y="1409" width="116" height="20"/><text class="lb" x="1273" y="1423">c</text><use href="#ch" x="1378" y="1419"/>
<rect class="pt" x="1269" y="1433" width="116" height="20"/><text class="lb" x="1273" y="1447">startLevel</text><use href="#ch" x="1378" y="1443"/>
<rect class="pt" x="1269" y="1457" width="116" height="20"/><text class="lb" x="1273" y="1471">endLevel</text><use href="#ch" x="1378" y="1467"/>
<rect class="pt" x="1269" y="1481" width="116" height="20"/><text class="lb" x="1273" y="1495">wallType</text><use href="#ch" x="1378" y="1491"/>
<rect class="pt" x="1418" y="1409" width="33" height="20"/><text class="ar" x="1447" y="1423">Wall</text>
<text class="au" x="1447" y="1518">AUTO</text>
</g>
<g id="n_cb8">
<rect class="bd sel" x="403" y="1465" width="72" height="71"/><rect class="hd" x="404" y="1466" width="70" height="22"/>
<text class="ttl" x="439" y="1483">Code Block</text>
<rect class="pt" x="405" y="1490" width="50" height="16"/>
<text class="cd" x="407" y="1502">1<tspan fill="#404040">;</tspan></text>
<text class="cdk" x="464" y="1502">&gt;</text>
</g>
</g>
</svg>
